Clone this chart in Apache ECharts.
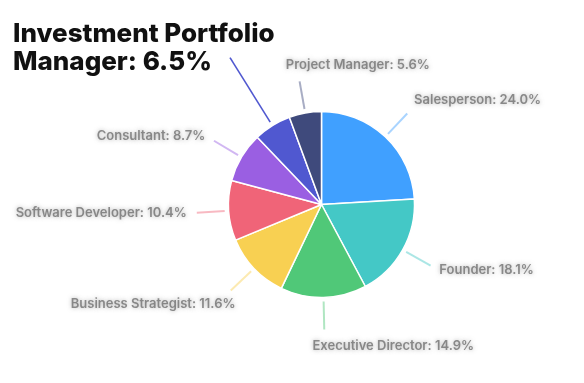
<!DOCTYPE html>
<html><head><meta charset="utf-8">
<script src="https://cdn.jsdelivr.net/npm/echarts@6/dist/echarts.min.js"></script>
<style>html,body{margin:0;padding:0;background:#fff}#c{width:584px;height:383px}</style>
</head><body><div id="c"></div>
<script>
const categories = ['Salesperson','Founder','Executive Director','Business Strategist','Software Developer','Consultant','Investment Portfolio Manager','Project Manager'];
const values = [24.0, 18.1, 14.9, 11.6, 10.4, 8.7, 6.5, 5.6];
const colors = ['#40a0ff','#44c8c6','#50c878','#f8d052','#f06478','#9a5fe2','#5058d0','#3f4a7c'];
const highlighted = 'Investment Portfolio Manager';

const CX = 321.5, CY = 204.5, R = 93, RT = 135, GAP = 4;

const chart = echarts.init(document.getElementById('c'), null, {renderer: 'canvas'});

const data = categories.map((name, i) => {
  const item = { name, value: values[i], itemStyle: { color: colors[i] } };
  if (name === highlighted) {
    item.label = {
      fontSize: 26, fontWeight: 800, color: '#111', lineHeight: 28,
      fontFamily: 'Inter', width: 300, overflow: 'break',
      textShadowBlur: 0, textShadowColor: 'transparent'
    };
    item.labelLine = { length: 80, lineStyle: { opacity: 1, width: 1.6, color: colors[i] } };
  }
  return item;
});

chart.setOption({
  animation: false,
  backgroundColor: '#fff',
  series: [{
    type: 'pie',
    center: [CX, CY],
    radius: R,
    startAngle: 90,
    clockwise: true,
    avoidLabelOverlap: false,
    data,
    itemStyle: { borderColor: '#fff', borderWidth: 1.5 },
    label: {
      show: true,
      position: 'outside',
      alignTo: 'none',
      fontFamily: 'Inter',
      fontSize: 13,
      fontWeight: 600,
      color: 'rgba(105,105,105,0.75)',
      textShadowColor: 'rgba(105,105,105,0.7)',
      textShadowBlur: 4,
      formatter: p => p.name + ': ' + p.value.toFixed(1) + '%'
    },
    labelLine: {
      show: true, length: 32, length2: 0, smooth: false,
      lineStyle: { width: 2, opacity: 0.45 }
    },
    labelLayout: function (p) {
      const pts = p.labelLinePoints;
      if (!pts || pts.length < 2) return {};
      const dx = pts[1][0] - pts[0][0], dy = pts[1][1] - pts[0][1];
      const len = Math.hypot(dx, dy) || 1;
      const ux = dx / len, uy = dy / len;
      const newPts = [[pts[0][0] + ux * GAP, pts[0][1] + uy * GAP], pts[1].slice(), pts[1].slice()];
      if (categories[p.dataIndex] === highlighted) {
        return { x: 13, y: 20, align: 'left', verticalAlign: 'top', labelLinePoints: newPts };
      }
      const px = CX + ux * RT, py = CY + uy * RT;
      let x, align, va;
      if (ux > 0.25) { x = px; align = 'left'; }
      else if (ux < -0.25) { x = uy > 0.6 ? px + 12 : px; align = 'right'; }
      else { x = px - 12; align = 'left'; }
      if (uy > 0.6) va = 'top';
      else if (uy < -0.6) va = 'bottom';
      else va = 'middle';
      return { x: x, y: py, align: align, verticalAlign: va, labelLinePoints: newPts };
    }
  }]
});
</script>
</body></html>
